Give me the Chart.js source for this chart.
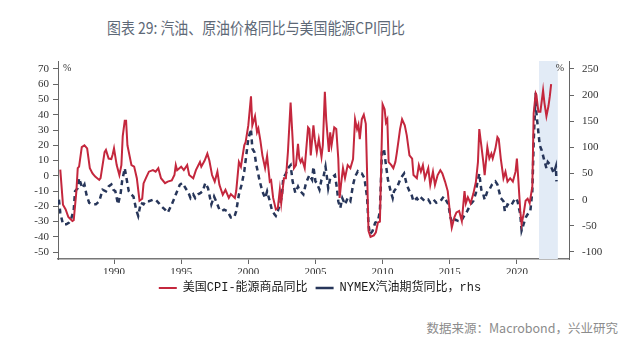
<!DOCTYPE html>
<html><head><meta charset="utf-8">
<script src="https://cdn.jsdelivr.net/npm/chart.js@4.4.1/dist/chart.umd.min.js"></script>
<style>
html,body{margin:0;padding:0;background:#fff;width:640px;height:356px;overflow:hidden;}
#title{position:absolute;left:107px;top:15px;white-space:nowrap;font-size:16px;font-family:'Noto Sans CJK SC';color:#5e6977;transform:scaleX(0.87);transform-origin:0 0;}
#wrap{position:absolute;left:0;top:0;width:640px;height:304px;}
#src{position:absolute;right:22px;top:318px;white-space:nowrap;font-size:12.5px;font-family:'Noto Sans CJK SC';color:#8c8c8c;}
</style></head><body>
<div id="title">图表 29: 汽油、原油价格同比与美国能源CPI同比</div>
<div id="wrap"><canvas id="c" width="640" height="304"></canvas></div>
<div id="src">数据来源：Macrobond，兴业研究</div>
<script>
// ---- data (decimal years, % y/y) ----
const cpiYears = [1986.0,1986.2,1986.4,1986.6,1986.9,1987.0,1987.2,1987.3,1987.4,1987.6,1987.8,1988.0,1988.2,1988.4,1988.6,1988.9,1989.0,1989.3,1989.4,1989.6,1989.8,1989.9,1990.0,1990.2,1990.4,1990.55,1990.65,1990.8,1990.9,1991.0,1991.3,1991.5,1991.7,1991.9,1992.1,1992.2,1992.4,1992.6,1992.9,1993.1,1993.3,1993.5,1993.8,1994.0,1994.3,1994.5,1994.6,1994.7,1995.0,1995.2,1995.45,1995.6,1995.9,1996.1,1996.4,1996.5,1996.75,1996.95,1997.1,1997.3,1997.5,1997.7,1997.85,1998.1,1998.3,1998.55,1998.7,1999.0,1999.1,1999.3,1999.45,1999.7,1999.8,2000.0,2000.2,2000.3,2000.5,2000.65,2000.75,2000.9,2001.05,2001.25,2001.4,2001.6,2001.7,2001.85,2002.05,2002.2,2002.35,2002.45,2002.65,2002.8,2002.95,2003.15,2003.3,2003.4,2003.55,2003.7,2003.8,2003.9,2004.0,2004.2,2004.45,2004.55,2004.65,2004.85,2004.95,2005.1,2005.25,2005.45,2005.55,2005.7,2005.8,2006.0,2006.1,2006.2,2006.4,2006.55,2006.7,2006.8,2006.9,2007.05,2007.2,2007.4,2007.6,2007.8,2007.95,2008.1,2008.2,2008.3,2008.45,2008.6,2008.75,2008.85,2008.95,2009.1,2009.35,2009.5,2009.65,2009.8,2010.0,2010.15,2010.25,2010.35,2010.45,2010.65,2010.8,2010.95,2011.05,2011.2,2011.3,2011.45,2011.65,2011.8,2012.0,2012.2,2012.3,2012.55,2012.7,2012.85,2013.0,2013.15,2013.4,2013.55,2013.75,2013.9,2014.1,2014.3,2014.45,2014.65,2014.85,2015.05,2015.15,2015.35,2015.5,2015.7,2015.9,2016.1,2016.2,2016.35,2016.55,2016.75,2016.95,2017.1,2017.2,2017.35,2017.5,2017.6,2017.8,2017.95,2018.1,2018.2,2018.4,2018.55,2018.65,2018.8,2019.0,2019.15,2019.3,2019.5,2019.7,2019.9,2020.0,2020.1,2020.25,2020.35,2020.5,2020.65,2020.8,2020.95,2021.15,2021.25,2021.4,2021.45,2021.6,2021.75,2021.95,2022.05,2022.2,2022.35,2022.45,2022.55];
const cpiValues = [4,-19,-22,-27,-29.6,-29,-10,5,6,18.8,20,18,5,1.6,-0.5,-2.7,-1.5,15.6,17,11.3,11,14,18,7,0.5,7,26,36,36,20,7,6,-1.6,-16.3,-15,-5,-1,2.7,3.7,2.7,5,-1.6,-4.8,-3.8,-3,0.5,7,3.7,6,3.7,7,0.5,-1.6,3.7,9,6,10,14.5,10,0.5,-3.8,2.7,-5.9,-12.4,-9.2,-14.5,-12,-14.5,-10,9,6,20,22,33,52,33,39,28.5,31,23,13.4,5,13,-3.8,-3,-14.5,-22,-21,-9,-18,-1.6,-1.6,15.6,48,24,5,7,21,11.3,9,11,5,31.7,30.6,13.4,33,24,15.6,24,12.4,20,55,37,15.6,28.5,20,31.7,30.6,11.3,-14.5,-6,5,-1.6,7,5,11,37,30.6,33.5,24,37,40,34,0.5,-36,-40,-39,-37,-30.6,-30,46.8,43.6,35,37,9,7,5,9,14.5,24,30.6,37,33,26.5,13.4,11.3,0.5,-1.6,7,2.7,7,-1.6,5,-6,2.7,-6,0.5,3.7,1.6,-3.8,-10,-27.4,-34,-27,-24,-23,-29.6,-10,-18,-14,-18,-12,-3.8,9,30.6,20,9,0.5,18.8,11.3,14.5,11.3,17.8,25.3,24,11.3,-1.6,2.7,-3.8,-1.6,-3.8,2.7,11.3,-1.6,-23,-31.7,-25,-16.3,-15,-18,-7,41,54,53,42,42,56,47.8,39,45.7,52,60];

const nymexYears = [1985.9,1986.0,1986.2,1986.45,1986.65,1986.8,1987.0,1987.1,1987.3,1987.4,1987.55,1987.65,1987.8,1987.95,1988.15,1988.4,1988.65,1988.9,1989.15,1989.4,1989.6,1989.8,1989.95,1990.1,1990.3,1990.5,1990.6,1990.8,1990.95,1991.1,1991.3,1991.45,1991.65,1991.8,1992.0,1992.2,1992.35,1992.6,1992.9,1993.1,1993.35,1993.5,1993.8,1994.0,1994.3,1994.5,1994.6,1994.9,1995.1,1995.4,1995.55,1995.7,1995.9,1996.05,1996.25,1996.45,1996.6,1996.8,1997.0,1997.25,1997.45,1997.7,1997.85,1998.0,1998.2,1998.45,1998.7,1998.95,1999.1,1999.3,1999.5,1999.7,1999.85,2000.0,2000.2,2000.3,2000.45,2000.6,2000.7,2000.85,2001.05,2001.25,2001.4,2001.6,2001.75,2001.95,2002.05,2002.2,2002.35,2002.5,2002.6,2002.8,2002.95,2003.15,2003.3,2003.5,2003.7,2003.85,2004.0,2004.1,2004.3,2004.55,2004.75,2004.85,2005.0,2005.1,2005.3,2005.45,2005.6,2005.75,2005.85,2005.95,2006.1,2006.3,2006.45,2006.6,2006.7,2006.85,2007.0,2007.2,2007.4,2007.6,2007.8,2007.95,2008.15,2008.3,2008.45,2008.65,2008.85,2008.95,2009.05,2009.25,2009.45,2009.65,2009.8,2009.95,2010.1,2010.25,2010.4,2010.6,2010.75,2010.85,2011.1,2011.35,2011.6,2011.8,2012.0,2012.15,2012.3,2012.55,2012.7,2012.9,2013.15,2013.4,2013.55,2013.8,2014.0,2014.3,2014.55,2014.7,2014.9,2015.05,2015.2,2015.4,2015.65,2015.85,2016.05,2016.3,2016.55,2016.75,2016.95,2017.05,2017.2,2017.35,2017.5,2017.6,2017.8,2017.95,2018.15,2018.4,2018.55,2018.8,2019.0,2019.1,2019.3,2019.55,2019.75,2019.9,2020.05,2020.25,2020.35,2020.5,2020.65,2020.8,2021.0,2021.15,2021.25,2021.4,2021.45,2021.55,2021.7,2021.85,2022.0,2022.2,2022.3,2022.5,2022.75,2022.9,2022.95];
const nymexValues = [0,-25,-47,-47,-44,-37.5,-20,16,22,41,29,22,29,9.6,-6,-9,-9,-3,19,16,25.4,29,19,16,-9,13,35,60,38,16,9.6,6,-19,-31,-6,-9,-3,-3,0,0,-7,-12,-19,-25,-9,3,10,28.5,32,19,13,3,10,3,10,13,16,32,22,-9,6,-9,-19,-22,-19,-22,-34,-34,-22,9.6,28.5,54,85,116,135,97.5,91,66,54,35,16,3,16,-3,-19,-28,-31,-22,-9,6,41,50,60,66,35,13,25,16,13,10,32,47,38,63,35,32,19,38,44,63,44,22,41,44,47,22,-3,-16,3,-9,3,-3,28.5,44,54,50,50,41,3,-47,-66,-60,-44,-41,-22,91,97.5,66,38,16,3,16,25,41,50,28.5,16,10,-3,3,-3,3,-3,0,-6,0,-6,-3,6,0,-9,-34,-44,-38,-41,-41,-32,-22,-9,-3,13,32,50,19,10,0,16,19,29,35,29,3,-3,-22,-9,-12,-3,3,-3,-28,-59,-47,-34,-28,-22,16,110,204,167,141,104,94,79,60,72,66,50,63,35];

const leftTicks = [-50,-40,-30,-20,-10,0,10,20,30,40,50,60,70];
const rightTicks = [-100,-50,0,50,100,150,200,250];
const yearTicks = [1990,1995,2000,2005,2010,2015,2020];
const shadeFrom = 2021.65, shadeTo = 2023.05;

const seriesNames = ['美国CPI-能源商品同比', 'NYMEX汽油期货同比，rhs'];

const shadePlugin = {
  id: 'shade',
  beforeDatasetsDraw(chart) {
    const {ctx, chartArea, scales} = chart;
    const x1 = scales.x.getPixelForValue(shadeFrom), x2 = scales.x.getPixelForValue(shadeTo);
    ctx.save();
    ctx.fillStyle = '#e2ebf6';
    ctx.fillRect(x1, chartArea.top, x2 - x1, chartArea.bottom - chartArea.top);
    ctx.restore();
  }
};
const pctPlugin = {
  id: 'pct',
  afterDraw(chart) {
    const {ctx, chartArea} = chart;
    ctx.save();
    ctx.font = "10px 'Liberation Serif', serif";
    ctx.fillStyle = '#333';
    ctx.textBaseline = 'middle';
    ctx.textAlign = 'left';
    ctx.fillText('%', chartArea.left + 5, chartArea.top + 7);
    ctx.textAlign = 'right';
    ctx.fillText('%', chartArea.right - 5, chartArea.top + 7);
    ctx.restore();
  }
};

function draw() {
  const tickFont = {family: "'Liberation Serif', serif", size: 11};
  new Chart(document.getElementById('c'), {
    type: 'line',
    data: {
      datasets: [
        {label: seriesNames[0], data: cpiYears.map((x, i) => ({x, y: cpiValues[i]})), yAxisID: 'y',
         borderColor: '#c4273d', backgroundColor: '#c4273d', borderWidth: 2, pointRadius: 0, pointStyle: 'line', tension: 0},
        {label: seriesNames[1], data: nymexYears.map((x, i) => ({x, y: nymexValues[i]})), yAxisID: 'y2',
         borderColor: '#27365a', backgroundColor: '#27365a', borderWidth: 2.5, borderDash: [5, 4], pointRadius: 0, pointStyle: 'line', tension: 0}
      ]
    },
    options: {
      responsive: false, animation: false,
      layout: {padding: {top: 61, left: 0, right: 0, bottom: 0}},
      plugins: {
        legend: {position: 'bottom', labels: {usePointStyle: true, pointStyleWidth: 18, padding: 8,
          color: '#1a1a1a', font: {family: "'Liberation Mono','Noto Sans CJK SC', monospace", size: 12}}},
        tooltip: {enabled: false}
      },
      scales: {
        x: {type: 'linear', min: 1985.83, max: 2023.88,
          afterBuildTicks: s => { s.ticks = yearTicks.map(v => ({value: v})); },
          afterFit: s => { s.height = 15; },
          ticks: {font: tickFont, color: '#333', padding: 2, maxRotation: 0, callback: v => String(v)},
          grid: {drawOnChartArea: false, drawTicks: true, tickLength: 5, color: '#666'},
          border: {display: true, color: '#777', width: 1.5}},
        y: {position: 'left', min: -54.5, max: 75.2,
          afterBuildTicks: s => { s.ticks = leftTicks.map(v => ({value: v})); },
          afterFit: s => { s.width = 58; },
          ticks: {font: tickFont, color: '#333', padding: 4},
          grid: {drawOnChartArea: false, drawTicks: true, tickLength: 5, color: '#666'},
          border: {display: true, color: '#666', width: 1}},
        y2: {position: 'right', min: -113.4, max: 265,
          afterBuildTicks: s => { s.ticks = rightTicks.map(v => ({value: v})); },
          afterFit: s => { s.width = 71; },
          ticks: {font: tickFont, color: '#333', padding: 8},
          grid: {drawOnChartArea: false, drawTicks: true, tickLength: 5, color: '#666'},
          border: {display: true, color: '#666', width: 1}}
      }
    },
    plugins: [shadePlugin, pctPlugin]
  });
}
Promise.all([
  document.fonts.load("11px 'Liberation Serif'"),
  document.fonts.load("12px 'Liberation Mono'"),
  document.fonts.load("12px 'Noto Sans CJK SC'", '美国')
]).then(draw, draw);
</script>
</body></html>
